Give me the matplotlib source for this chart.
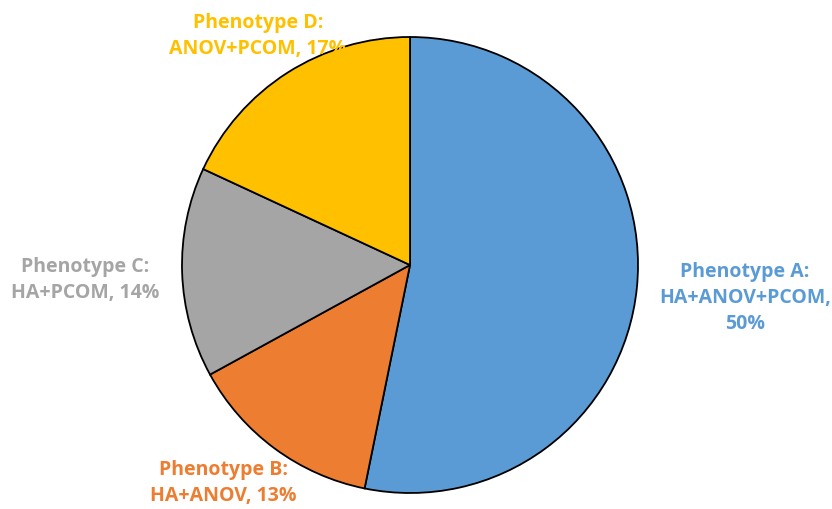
import matplotlib
matplotlib.use("Agg")
import matplotlib.pyplot as plt

categories = ["Phenotype A:\nHA+ANOV+PCOM,\n50%", "Phenotype B:\nHA+ANOV, 13%",
              "Phenotype C:\nHA+PCOM, 14%", "Phenotype D:\nANOV+PCOM, 17%"]
values = [50, 13, 14, 17]
colors = ["#5B9BD5", "#ED7D31", "#A5A5A5", "#FFC000"]
label_pos = [(1.469, -0.145), (-0.82, -0.956), (-1.425, -0.066), (-0.667, 1.004)]

W, H = 832, 509
fig = plt.figure(figsize=(W / 100, H / 100), dpi=100)
cx, cy, r = 410, 265, 228
ax = fig.add_axes([(cx - r) / W, (H - cy - r) / H, 2 * r / W, 2 * r / H])
ax.axis("off")

ax.pie(values, colors=colors, startangle=90, counterclock=False, radius=1,
       wedgeprops=dict(edgecolor="black", linewidth=1.3))
ax.set_xlim(-1, 1)
ax.set_ylim(-1, 1)

for lab, (x, y), c in zip(categories, label_pos, colors):
    ax.text(x, y, lab, ha="center", va="center", color=c, fontsize=14,
            fontweight="bold", family="Open Sans", linespacing=1.4, clip_on=False)

fig.savefig("out.png", dpi=100)
